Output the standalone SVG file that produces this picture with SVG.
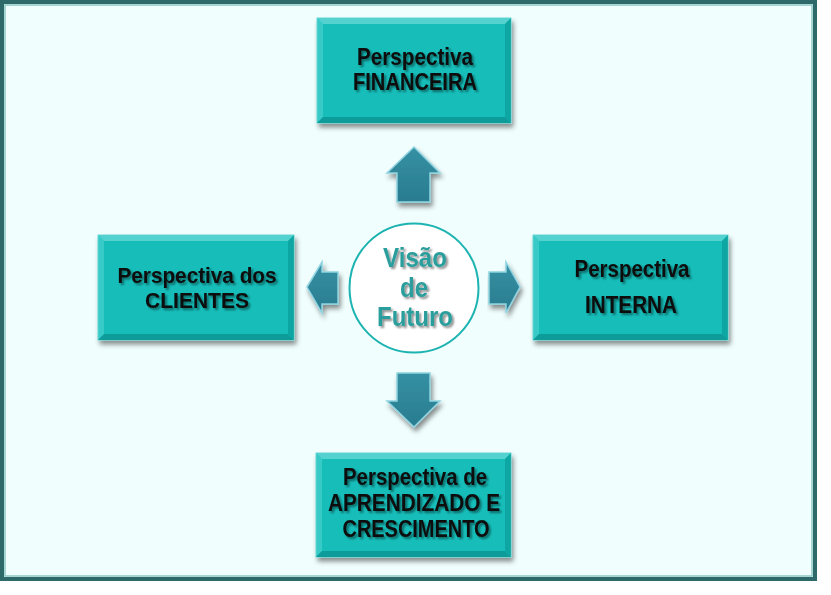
<svg xmlns="http://www.w3.org/2000/svg" width="831" height="595" viewBox="0 0 831 595">
<defs>
<filter id="sh" x="-10%" y="-10%" width="130%" height="130%">
<feGaussianBlur in="SourceAlpha" stdDeviation="2.5"/>
<feOffset dx="2" dy="4" result="b"/>
<feComponentTransfer><feFuncA type="linear" slope="0.45"/></feComponentTransfer>
<feMerge><feMergeNode/><feMergeNode in="SourceGraphic"/></feMerge>
</filter>
<filter id="tsh" x="-10%" y="-10%" width="130%" height="140%">
<feGaussianBlur in="SourceAlpha" stdDeviation="1"/>
<feOffset dx="1.5" dy="2"/>
<feComponentTransfer><feFuncA type="linear" slope="0.45"/></feComponentTransfer>
<feMerge><feMergeNode/><feMergeNode in="SourceGraphic"/></feMerge>
</filter>
<linearGradient id="arr" x1="0" y1="0" x2="0" y2="1">
<stop offset="0" stop-color="#3590A3"/>
<stop offset="1" stop-color="#2A7C8F"/>
</linearGradient>
</defs>
<style>
.box{fill:#15BDB9;stroke:#6FD8D5;stroke-width:1}
.bevL{fill:#52D2CF}
.bevD{fill:#0E9C99}
.bt{font-family:"Liberation Sans",Arial,sans-serif;font-size:24px;font-weight:bold;fill:#0a0a0a;text-anchor:middle}
.bs{font-size:22px}
.ct{font-family:"Liberation Sans",Arial,sans-serif;font-size:28px;font-weight:bold;fill:#2C9E9C;text-anchor:middle}
.ar{fill:url(#arr);stroke:#8FD3E0;stroke-width:1.5;stroke-linejoin:miter}
</style>
<rect x="0" y="0" width="831" height="595" fill="#ffffff"/>
<rect x="2" y="2" width="813" height="577" fill="#F0FFFE" stroke="#2F6A6A" stroke-width="4"/>
<rect x="5" y="5" width="807" height="571" fill="none" stroke="#8CC9C6" stroke-width="1.5"/>

<g id="connectors">
<polygon class="ar" points="414,147 440,173 430,173 430,202 397,202 397,173 387,173" filter="url(#sh)"/>
<polygon class="ar" points="414,427 440,401 430,401 430,373 397,373 397,401 387,401" filter="url(#sh)"/>
<polygon class="ar" points="307,287 322,262 322,272 338,272 338,304 322,304 322,313" filter="url(#sh)"/>
<polygon class="ar" points="520,287 506,262 506,272 489,272 489,304 506,304 506,313" filter="url(#sh)"/>
</g>

<g id="node-financeira">
<g filter="url(#sh)">
<rect class="box" x="317" y="18" width="194" height="105"/>
<polygon class="bevL" points="317,18 511,18 505,24 323,24"/>
<polygon class="bevL" points="317,18 323,24 323,117 317,123" opacity="0.6"/>
<polygon class="bevD" points="511,18 511,123 505,117 505,24" opacity="0.7"/>
<polygon class="bevD" points="317,123 511,123 505,117 323,117"/>
</g>
<g filter="url(#tsh)">
<text class="bt" x="415" y="65" textLength="116" lengthAdjust="spacingAndGlyphs">Perspectiva</text>
<text class="bt" x="415" y="90" textLength="124" lengthAdjust="spacingAndGlyphs">FINANCEIRA</text>
</g>
</g>

<g id="node-clientes">
<g filter="url(#sh)">
<rect class="box" x="98" y="235" width="196" height="105"/>
<polygon class="bevL" points="98,235 294,235 288,241 104,241"/>
<polygon class="bevL" points="98,235 104,241 104,334 98,340" opacity="0.6"/>
<polygon class="bevD" points="294,235 294,340 288,334 288,241" opacity="0.7"/>
<polygon class="bevD" points="98,340 294,340 288,334 104,334"/>
</g>
<g filter="url(#tsh)">
<text class="bt bs" x="197" y="283" textLength="159" lengthAdjust="spacingAndGlyphs">Perspectiva dos</text>
<text class="bt bs" x="197" y="308" textLength="104" lengthAdjust="spacingAndGlyphs">CLIENTES</text>
</g>
</g>

<g id="node-interna">
<g filter="url(#sh)">
<rect class="box" x="533" y="235" width="195" height="105"/>
<polygon class="bevL" points="533,235 728,235 722,241 539,241"/>
<polygon class="bevL" points="533,235 539,241 539,334 533,340" opacity="0.6"/>
<polygon class="bevD" points="728,235 728,340 722,334 722,241" opacity="0.7"/>
<polygon class="bevD" points="533,340 728,340 722,334 539,334"/>
</g>
<g filter="url(#tsh)">
<text class="bt" x="632" y="277" textLength="115" lengthAdjust="spacingAndGlyphs">Perspectiva</text>
<text class="bt" x="631" y="313" textLength="92" lengthAdjust="spacingAndGlyphs">INTERNA</text>
</g>
</g>

<g id="node-aprendizado">
<g filter="url(#sh)">
<rect class="box" x="316" y="453" width="195" height="104"/>
<polygon class="bevL" points="316,453 511,453 505,459 322,459"/>
<polygon class="bevL" points="316,453 322,459 322,551 316,557" opacity="0.6"/>
<polygon class="bevD" points="511,453 511,557 505,551 505,459" opacity="0.7"/>
<polygon class="bevD" points="316,557 511,557 505,551 322,551"/>
</g>
<g filter="url(#tsh)">
<text class="bt" x="415" y="485" textLength="144" lengthAdjust="spacingAndGlyphs">Perspectiva de</text>
<text class="bt" x="414" y="511" textLength="172" lengthAdjust="spacingAndGlyphs">APRENDIZADO E</text>
<text class="bt" x="416" y="537" textLength="147" lengthAdjust="spacingAndGlyphs">CRESCIMENTO</text>
</g>
</g>

<g id="node-visao">
<circle cx="414" cy="288" r="64.5" fill="#ffffff" stroke="#1CB3B1" stroke-width="2"/>
<g filter="url(#tsh)">
<text class="ct" x="415" y="267" textLength="64" lengthAdjust="spacingAndGlyphs">Visão</text>
<text class="ct" x="414" y="297" textLength="28" lengthAdjust="spacingAndGlyphs">de</text>
<text class="ct" x="415" y="326" textLength="76" lengthAdjust="spacingAndGlyphs">Futuro</text>
</g>
</g>
</svg>
